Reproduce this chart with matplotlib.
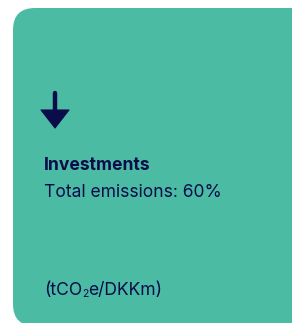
import matplotlib
matplotlib.use('Agg')
import matplotlib.pyplot as plt
from matplotlib.patches import FancyBboxPatch, Polygon

plt.rcParams['font.family'] = ['Inter', 'DejaVu Sans']

category = 'Investments'
metric = 'Total emissions'
share = 60
unit_parts = ['(tCO', '2', 'e/DKKm)']

teal = '#4bbca3'
navy = '#0b0c4a'

fig = plt.figure(figsize=(2.92, 3.23), dpi=100)
ax = fig.add_axes([0, 0, 1, 1])
ax.set_xlim(0, 292)
ax.set_ylim(323, 0)
ax.axis('off')

# card, running off the right and bottom edges
card = FancyBboxPatch((13, 8), 300, 318, boxstyle='round,pad=0,rounding_size=22',
                      facecolor=teal, edgecolor='none')
ax.add_patch(card)

# down arrow
ax.plot([55, 55], [93, 112], color=navy, lw=3.2, solid_capstyle='round')
ax.add_patch(Polygon([[41, 110], [69, 110], [55, 128]], closed=True,
                     facecolor=navy, edgecolor=navy, lw=0.8, joinstyle='round'))

ax.text(44, 170, category, fontsize=12.6, fontweight='bold', color=navy, va='baseline')
ax.text(44, 197, f'{metric}: {share}%', fontsize=12.6, color=navy, va='baseline')

# unit with a small subscript 2, pieces placed one after another
renderer = fig.canvas.get_renderer()
x = 44
for i, part in enumerate(unit_parts):
    sub = (i == 1)
    t = ax.text(x, 297 if sub else 295, part, fontsize=7.5 if sub else 12.6,
                color=navy, va='baseline')
    bb = t.get_window_extent(renderer)
    x += bb.width * 292 / fig.bbox.width

fig.savefig('out.png', dpi=100)
